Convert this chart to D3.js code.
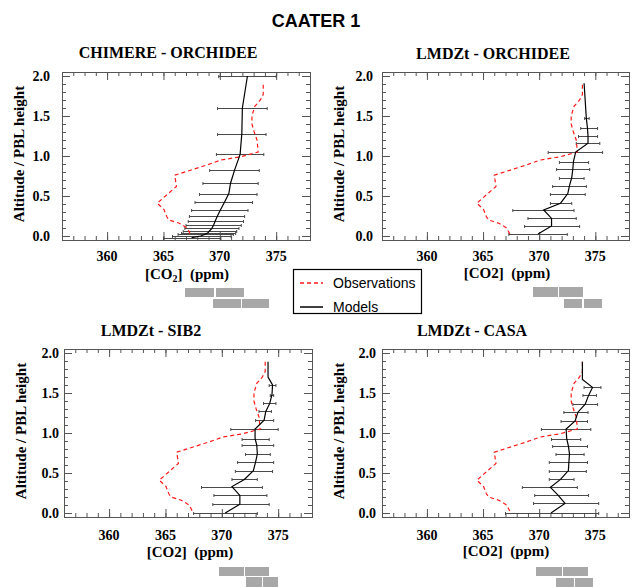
<!DOCTYPE html>
<html><head><meta charset="utf-8">
<script src="https://cdn.jsdelivr.net/npm/d3@7"></script>
<style>body{margin:0;background:#fff} text{white-space:pre}</style>
</head><body>
<svg id="c" width="632" height="587"></svg>
<script>
// ---------- data ----------
const mainTitle = "CAATER 1";
const panelTitles = ["CHIMERE - ORCHIDEE", "LMDZt - ORCHIDEE", "LMDZt - SIB2", "LMDZt - CASA"];
const yAxisTitle = "Altitude / PBL height";
const legendLabels = ["Observations", "Models"];
const xTicks = [360, 365, 370, 375];
const xTickLabels = ["360", "365", "370", "375"];
const yTicks = [0.0, 0.5, 1.0, 1.5, 2.0];
const yTickLabels = ["0.0", "0.5", "1.0", "1.5", "2.0"];
const xDomain = [356, 378];
const yDomain = [-0.05, 2.05];

// observations (same profile in every panel)
const obsAlt = [1.89, 1.77, 1.70, 1.62, 1.50, 1.40, 1.30, 1.20, 1.05, 0.99, 0.95, 0.89, 0.76, 0.62, 0.41, 0.33, 0.24, 0.20, 0.16, 0.10, 0.02];
const obsVal = [373.85, 373.85, 373.6, 373.1, 372.85, 372.85, 373.05, 373.3, 373.4, 371.85, 370.1, 368.9, 366.0, 366.15, 364.45, 365.05, 365.3, 365.5, 366.4, 367.1, 367.4];

// CHIMERE - ORCHIDEE
const chimAlt = [2.0, 1.6, 1.275, 1.02, 0.82, 0.66, 0.53, 0.42, 0.325, 0.254, 0.19, 0.137, 0.096, 0.066, 0.041, 0.021, 0.0, -0.02];
const chimVal = [372.45, 372.0, 371.95, 371.8, 371.3, 370.95, 370.8, 370.4, 370.05, 369.8, 369.6, 369.45, 369.3, 369.1, 368.95, 368.7, 368.3, 367.5];
const chimLo  = [369.9, 369.8, 369.8, 369.7, 369.1, 368.5, 368.2, 367.8, 367.5, 367.3, 367.2, 367.0, 366.9, 366.75, 366.6, 366.3, 365.8, 365.0];
const chimHi  = [375.0, 374.2, 374.1, 373.9, 373.5, 373.4, 373.3, 372.9, 372.5, 372.2, 372.1, 371.9, 371.7, 371.5, 371.4, 371.2, 371.0, 370.1];

// LMDZt - ORCHIDEE
const orchAlt = [1.91, 1.47, 1.35, 1.25, 1.16, 1.05, 0.93, 0.84, 0.73, 0.63, 0.53, 0.41, 0.325, 0.22, 0.125, 0.025];
const orchVal = [374.0, 374.2, 374.3, 374.35, 374.35, 373.25, 373.05, 373.0, 372.9, 372.7, 372.55, 371.9, 370.4, 371.1, 371.1, 369.9];
const orchLo  = [374.0, 374.05, 373.7, 373.5, 373.3, 370.8, 371.8, 371.55, 371.8, 371.2, 371.0, 371.0, 367.65, 369.0, 368.7, 367.3];
const orchHi  = [374.0, 374.45, 375.2, 375.2, 375.4, 375.65, 374.4, 374.5, 374.0, 374.2, 374.1, 372.9, 373.1, 373.3, 373.6, 372.5];

// LMDZt - SIB2
const sibAlt = [1.89, 1.70, 1.60, 1.48, 1.37, 1.27, 1.16, 1.05, 0.93, 0.85, 0.74, 0.64, 0.53, 0.42, 0.33, 0.22, 0.11, 0.0];
const sibVal = [374.1, 374.1, 374.5, 374.45, 374.25, 373.9, 373.75, 372.95, 372.95, 373.1, 373.15, 373.0, 372.8, 372.0, 370.9, 371.6, 371.6, 370.3];
const sibLo  = [374.1, 374.1, 374.2, 374.3, 373.7, 373.3, 373.0, 370.8, 371.8, 371.8, 372.1, 371.4, 371.2, 370.9, 368.2, 369.3, 369.2, 367.5];
const sibHi  = [374.1, 374.1, 374.8, 374.6, 374.8, 374.4, 374.6, 375.0, 374.2, 374.6, 374.3, 374.6, 374.5, 373.15, 373.6, 374.0, 374.2, 373.15];

// LMDZt - CASA
const casaAlt = [1.89, 1.67, 1.57, 1.47, 1.36, 1.26, 1.15, 1.05, 0.93, 0.84, 0.74, 0.64, 0.53, 0.42, 0.32, 0.22, 0.12, 0.0];
const casaVal = [373.85, 373.85, 374.75, 374.4, 374.1, 373.45, 373.2, 372.4, 372.45, 372.6, 372.7, 372.65, 372.6, 371.9, 371.0, 371.7, 372.3, 371.05];
const casaLo  = [373.85, 373.85, 374.0, 373.9, 373.0, 372.2, 371.95, 370.2, 371.1, 371.2, 371.5, 370.9, 370.9, 370.9, 368.5, 369.6, 369.5, 367.0];
const casaHi  = [373.85, 373.85, 375.5, 375.1, 375.2, 374.35, 374.3, 374.6, 373.7, 374.3, 374.0, 374.3, 374.2, 373.1, 373.4, 374.4, 375.3, 375.3];

// ---------- layout ----------
const serif = "'Liberation Serif','Times New Roman',serif";
const sans = "'Liberation Sans',Arial,sans-serif";
const svg = d3.select("#c");

const panels = [
  {title: panelTitles[0], alt: chimAlt, val: chimVal, lo: chimLo, hi: chimHi, sub: true,
   x0: 62, x1: 310, y0: 72, y1: 240, tx: 168, ty: 58, ylx: 24, ytx: 50, xtb: 261, xlx: 187, xly: 279,
   gray: [[185,288,29,9],[216,288,28,9],[213,299,28,9],[242,299,27,9]]},
  {title: panelTitles[1], alt: orchAlt, val: orchVal, lo: orchLo, hi: orchHi, sub: false,
   x0: 382, x1: 629, y0: 72, y1: 240, tx: 493, ty: 59, ylx: 344, ytx: 373, xtb: 261, xlx: 507, xly: 278,
   gray: [[533,287,25,10],[559,287,24,10],[564,299,18,9],[584,299,18,9]]},
  {title: panelTitles[2], alt: sibAlt, val: sibVal, lo: sibLo, hi: sibHi, sub: false,
   x0: 64, x1: 312, y0: 349, y1: 517, tx: 151, ty: 336, ylx: 26, ytx: 59, xtb: 540, xlx: 190, xly: 557,
   gray: [[219,567,25,9],[245,567,24,9],[246,577,16,10],[263,577,15,10]]},
  {title: panelTitles[3], alt: casaAlt, val: casaVal, lo: casaLo, hi: casaHi, sub: false,
   x0: 382, x1: 629, y0: 349, y1: 517, tx: 472, ty: 336, ylx: 344, ytx: 376, xtb: 540, xlx: 506, xly: 556,
   gray: [[536,567,26,9],[563,567,25,9],[556,578,18,9],[575,578,18,9]]}
];

svg.append("text").attr("x", 316).attr("y", 27).attr("text-anchor", "middle")
  .attr("font-family", sans).attr("font-weight", "bold").attr("font-size", 18).text(mainTitle);

const axisColor = "#555";

function drawPanel(p) {
  const x = d3.scaleLinear().domain(xDomain).range([p.x0, p.x1]);
  const y = d3.scaleLinear().domain(yDomain).range([p.y1, p.y0]);
  const g = svg.append("g");

  const xMinor = d3.range(xDomain[0], xDomain[1] + 0.001, 1);
  const yMinor = d3.range(0, 2.0001, 0.1);

  function addAxis(axis, tx, ty) {
    const a = g.append("g").attr("transform", `translate(${tx},${ty})`).call(axis);
    a.select(".domain").remove();
    a.selectAll("line").attr("stroke", axisColor);
  }
  addAxis(d3.axisBottom(x).tickValues(xMinor).tickSize(-4).tickFormat(""), 0, p.y1);
  addAxis(d3.axisBottom(x).tickValues(xTicks).tickSize(-8).tickFormat(""), 0, p.y1);
  addAxis(d3.axisTop(x).tickValues(xMinor).tickSize(-4).tickFormat(""), 0, p.y0);
  addAxis(d3.axisTop(x).tickValues(xTicks).tickSize(-8).tickFormat(""), 0, p.y0);
  addAxis(d3.axisLeft(y).tickValues(yMinor).tickSize(-4).tickFormat(""), p.x0, 0);
  addAxis(d3.axisLeft(y).tickValues(yTicks).tickSize(-8).tickFormat(""), p.x0, 0);
  addAxis(d3.axisRight(y).tickValues(yMinor).tickSize(-4).tickFormat(""), p.x1, 0);
  addAxis(d3.axisRight(y).tickValues(yTicks).tickSize(-8).tickFormat(""), p.x1, 0);

  g.append("rect").attr("x", p.x0 + 0.5).attr("y", p.y0 + 0.5)
    .attr("width", p.x1 - p.x0).attr("height", p.y1 - p.y0)
    .attr("fill", "none").attr("stroke", axisColor).attr("stroke-width", 1);

  // tick labels
  g.selectAll(".xt").data(xTicks).enter().append("text")
    .attr("x", d => x(d)).attr("y", p.xtb).attr("text-anchor", "middle")
    .attr("font-family", serif).attr("font-weight", "bold").attr("font-size", 14)
    .text((d, i) => xTickLabels[i]);
  g.selectAll(".yt").data(yTicks).enter().append("text")
    .attr("x", p.ytx).attr("y", d => y(d) + 5).attr("text-anchor", "end")
    .attr("font-family", serif).attr("font-weight", "bold").attr("font-size", 14)
    .text((d, i) => yTickLabels[i]);

  // titles
  g.append("text").attr("x", p.tx).attr("y", p.ty).attr("text-anchor", "middle")
    .attr("font-family", serif).attr("font-weight", "bold").attr("font-size", 16).text(p.title);
  const yc = (p.y0 + p.y1) / 2;
  g.append("text").attr("transform", `translate(${p.ylx},${yc - 2}) rotate(-90)`)
    .attr("text-anchor", "middle").attr("font-family", serif).attr("font-weight", "bold")
    .attr("font-size", 15).text(yAxisTitle);
  const xl = g.append("text").attr("x", p.xlx).attr("y", p.xly).attr("text-anchor", "middle")
    .attr("font-family", serif).attr("font-weight", "bold").attr("font-size", 15);
  if (p.sub) {
    xl.append("tspan").text("[CO");
    xl.append("tspan").attr("font-size", 10).attr("dy", 3).text("2");
    xl.append("tspan").attr("dy", -3).text("]  (ppm)");
  } else {
    xl.text("[CO2]  (ppm)");
  }

  // error bars
  const idx = d3.range(p.alt.length).filter(i => p.hi[i] > p.lo[i]);
  const eb = g.append("g").attr("stroke", "#4a4a4a").attr("stroke-width", 1);
  idx.forEach(i => {
    const yy = Math.round(y(p.alt[i])) + 0.5;
    eb.append("line").attr("x1", x(p.lo[i])).attr("x2", x(p.hi[i])).attr("y1", yy).attr("y2", yy);
    eb.append("line").attr("x1", x(p.lo[i])).attr("x2", x(p.lo[i])).attr("y1", yy - 1.5).attr("y2", yy + 1.5);
    eb.append("line").attr("x1", x(p.hi[i])).attr("x2", x(p.hi[i])).attr("y1", yy - 1.5).attr("y2", yy + 1.5);
  });

  // observations
  const obs = obsAlt.map((a, i) => ({a, v: obsVal[i]}));
  const line = d3.line().x(d => x(d.v)).y(d => y(d.a));
  g.append("path").datum(obs).attr("d", line).attr("fill", "none")
    .attr("stroke", "#ff1a1a").attr("stroke-width", 1.2).attr("stroke-dasharray", "4,3");

  // model
  const mod = p.alt.map((a, i) => ({a, v: p.val[i]}));
  g.append("path").datum(mod).attr("d", line).attr("fill", "none")
    .attr("stroke", "#000").attr("stroke-width", 1.2);

  // gray blocks
  g.selectAll(".gb").data(p.gray).enter().append("rect")
    .attr("x", d => d[0]).attr("y", d => d[1]).attr("width", d => d[2]).attr("height", d => d[3])
    .attr("fill", "#a8a8a8");
}
panels.forEach(drawPanel);

// legend
const lg = svg.append("g");
lg.append("rect").attr("x", 293.5).attr("y", 269.5).attr("width", 128).attr("height", 44)
  .attr("fill", "#fff").attr("stroke", "#000").attr("stroke-width", 1.2);
lg.append("line").attr("x1", 300).attr("x2", 323).attr("y1", 283).attr("y2", 283)
  .attr("stroke", "#ff1a1a").attr("stroke-width", 1.5).attr("stroke-dasharray", "4,3");
lg.append("line").attr("x1", 300).attr("x2", 323).attr("y1", 307).attr("y2", 307)
  .attr("stroke", "#000").attr("stroke-width", 1.5);
lg.append("text").attr("x", 333).attr("y", 288).attr("font-family", sans).attr("font-size", 14).text(legendLabels[0]);
lg.append("text").attr("x", 333).attr("y", 312).attr("font-family", sans).attr("font-size", 14).text(legendLabels[1]);
</script>
</body></html>
